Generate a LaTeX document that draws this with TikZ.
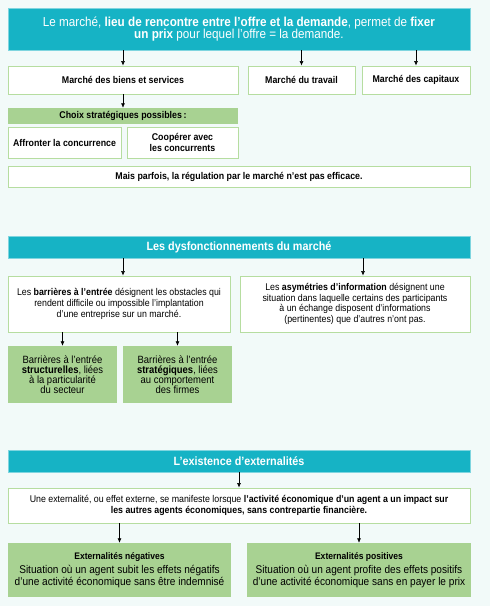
\documentclass[tikz,border=0pt]{standalone}
\usepackage{fontspec}
\setmainfont{Liberation Sans}[FakeStretch=0.9]
\usepackage{tikz}
\usetikzlibrary{arrows.meta,calc}
\definecolor{fondpage}{RGB}{242,250,249}
\definecolor{bleumarche}{RGB}{22,179,197}
\definecolor{vertmarche}{RGB}{168,210,146}
\definecolor{bordvert}{RGB}{182,221,160}

\begin{document}
\begin{tikzpicture}[x=1pt,y=-1pt,
	titre/.style={fill=bleumarche,draw=bleumarche!55,line width=0.6pt,text=white,inner sep=0pt,align=center,font=\fontsize{12}{13}\selectfont\bfseries},
	cadre/.style={fill=white,draw=bordvert,line width=0.9pt,inner sep=0pt,align=center,font=\fontsize{9.8}{10.6}\selectfont},
	vert/.style={fill=vertmarche,inner sep=0pt,align=center,font=\fontsize{10.5}{10.2}\selectfont},
	gras/.style={font=\fontsize{9.8}{10.6}\selectfont\bfseries},
	fl/.style={-{Latex[length=4.5pt,width=4pt]},line width=0.6pt}]
	\fill[fondpage] (0,0) rectangle (490,606);
	\useasboundingbox (0,0) rectangle (490,606);
	\node[titre,minimum width=462pt,minimum height=42pt,font=\fontsize{13}{12.5}\selectfont] (marche) at (239,29) {Le marché, \textbf{lieu de rencontre entre l'offre et la demande}, permet de \textbf{fixer}\\\textbf{un prix} pour lequel l'offre = la demande.};
	\node[cadre,gras,minimum width=230pt,minimum height=28pt] (biens) at (123,80) {Marché des biens et services};
	\node[cadre,gras,minimum width=107pt,minimum height=28pt] (travail) at (301.5,80) {Marché du travail};
	\node[cadre,gras,minimum width=108pt,minimum height=28pt] (capitaux) at (416,80) {Marché des capitaux};
	\node[vert,gras,minimum width=230pt,minimum height=16pt] (choix) at (123,116) {Choix stratégiques possibles\,:};
	\node[cadre,gras,minimum width=113pt,minimum height=31pt] (affronter) at (64.5,142.5) {Affronter la concurrence};
	\node[cadre,gras,minimum width=111pt,minimum height=31pt] (cooperer) at (182.5,142.5) {Coopérer avec\\les concurrents};
	\node[cadre,gras,minimum width=462pt,minimum height=21pt] (parfois) at (239,176.5) {Mais parfois, la régulation par le marché n'est pas efficace.};
	\draw[fl] (marche.south -| biens) -- (biens);
	\draw[fl] (marche.south -| travail) -- (travail);
	\draw[fl] (marche.south -| capitaux) -- (capitaux);
	\draw[fl] (biens) -- (choix);

	\node[titre,minimum width=462pt,minimum height=22pt] (dysf) at (239,247) {Les dysfonctionnements du marché};
	\node[cadre,minimum width=222pt,minimum height=56pt] (barrieres) at (119,304) {Les \textbf{barrières à l'entrée} désignent les obstacles qui\\rendent difficile ou impossible l'implantation\\d'une entreprise sur un marché.};
	\node[cadre,minimum width=230pt,minimum height=56pt] (asym) at (355,304) {Les \textbf{asymétries d'information} désignent une\\situation dans laquelle certains des participants\\à un échange disposent d'informations\\(pertinentes) que d'autres n'ont pas.};
	\node[vert,minimum width=109pt,minimum height=57pt] (structur) at (62.5,374.5) {Barrières à l'entrée\\\textbf{structurelles}, liées\\à la particularité\\du secteur};
	\node[vert,minimum width=109pt,minimum height=57pt] (strateg) at (177.5,374.5) {Barrières à l'entrée\\\textbf{stratégiques}, liées\\au comportement\\des firmes};
	\draw[fl] ([xshift=4pt]barrieres.north |- dysf.south) -- ([xshift=4pt]barrieres.north);
	\draw[fl] ([xshift=8pt]asym.north |- dysf.south) -- ([xshift=8pt]asym.north);
	\draw[fl] (barrieres.south -| structur) -- (structur);
	\draw[fl] (barrieres.south -| strateg) -- (strateg);

	\node[titre,minimum width=462pt,minimum height=22pt] (extern) at (239,461) {L'existence d'externalités};
	\node[cadre,minimum width=462pt,minimum height=35pt,font=\fontsize{9.8}{11}\selectfont] (effet) at (239,505.5) {Une externalité, ou effet externe, se manifeste lorsque \textbf{l'activité économique d'un agent a un impact sur}\\\textbf{les autres agents économiques, sans contrepartie financière.}};
	\node[vert,minimum width=223pt,minimum height=54pt,font=\fontsize{11.2}{10.4}\selectfont] (negat) at (119.5,570) {{\fontsize{9.5}{10}\selectfont\bfseries Externalités négatives}\\[3.5pt]Situation où un agent subit les effets négatifs\\d'une activité économique sans être indemnisé};
	\node[vert,minimum width=224pt,minimum height=54pt,font=\fontsize{11.2}{10.4}\selectfont] (posit) at (359,570) {{\fontsize{9.5}{10}\selectfont\bfseries Externalités positives}\\[3.5pt]Situation où un agent profite des effets positifs\\d'une activité économique sans en payer le prix};
	\draw[fl] (extern) -- (effet);
	\draw[fl] (effet.south -| negat) -- (negat);
	\draw[fl] (effet.south -| posit) -- (posit);
\end{tikzpicture}
\end{document}
